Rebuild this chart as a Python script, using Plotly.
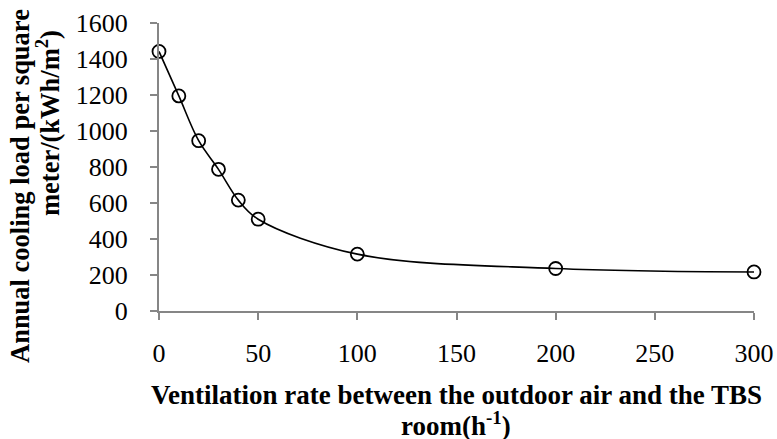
import plotly.graph_objects as go

ventilation_rate = [0, 10, 20, 30, 40, 50, 100, 200, 300]
cooling_load = [1442, 1195, 946, 787, 616, 510, 316, 236, 217]

x_ticks = [0, 50, 100, 150, 200, 250, 300]
y_ticks = [0, 200, 400, 600, 800, 1000, 1200, 1400, 1600]

FONT = "Liberation Serif, Times New Roman, serif"
AXIS_GRAY = "#868686"

W, H = 777, 439
L, R, T, B = 159, 754, 23, 311  # pixel box of plot area
PW, PH = R - L, B - T

fig = go.Figure()
fig.add_trace(go.Scatter(
    x=ventilation_rate, y=cooling_load,
    mode="lines+markers",
    line=dict(color="black", width=1.6, shape="spline", smoothing=1.0),
    marker=dict(symbol="circle-open", size=13, color="black", line=dict(width=1.8, color="black")),
    cliponaxis=False,
    showlegend=False,
    hoverinfo="skip",
))

fig.update_layout(
    width=W, height=H,
    margin=dict(l=L, r=W - R, t=T, b=H - B, autoexpand=False),
    paper_bgcolor="white", plot_bgcolor="white",
    font=dict(family=FONT, size=26, color="black"),
    xaxis=dict(
        range=[0, 300], tickvals=x_ticks, ticktext=[str(v) for v in x_ticks],
        showgrid=False, zeroline=False, showline=True, linecolor=AXIS_GRAY, linewidth=2,
        ticks="outside", ticklen=7, tickwidth=2, tickcolor=AXIS_GRAY,
        tickfont=dict(family=FONT, size=26, color="black"),
        ticklabelstandoff=11, automargin=False,
    ),
    yaxis=dict(
        range=[0, 1600], tickvals=y_ticks, ticktext=[str(v) for v in y_ticks],
        showgrid=False, zeroline=False, showline=True, linecolor=AXIS_GRAY, linewidth=2,
        ticks="outside", ticklen=7, tickwidth=2, tickcolor=AXIS_GRAY,
        tickfont=dict(family=FONT, size=26, color="black"),
        ticklabelstandoff=17, automargin=False,
    ),
    annotations=[
        dict(text="<b>Ventilation rate between the outdoor air and the TBS</b>",
             xref="paper", yref="paper", x=(456 - L) / PW, y=-(395 - B) / PH,
             xanchor="center", yanchor="middle", showarrow=False,
             font=dict(family=FONT, size=27, color="black")),
        dict(text="<b>room(h<sup>-1</sup>)</b>",
             xref="paper", yref="paper", x=(456 - L) / PW, y=-(424 - B) / PH,
             xanchor="center", yanchor="middle", showarrow=False,
             font=dict(family=FONT, size=27, color="black")),
        dict(text="<b>Annual cooling load per square</b>", textangle=-90,
             xref="paper", yref="paper", x=-(L - 20) / PW, y=(B - 186) / PH,
             xanchor="center", yanchor="middle", showarrow=False,
             font=dict(family=FONT, size=26.5, color="black")),
        dict(text="<b>meter/(kWh/m<sup>2</sup>)</b>", textangle=-90,
             xref="paper", yref="paper", x=-(L - 48) / PW, y=(B - 123) / PH,
             xanchor="center", yanchor="middle", showarrow=False,
             font=dict(family=FONT, size=26.5, color="black")),
    ],
)

fig.write_html(
    "out.html",
    config={"displayModeBar": False, "staticPlot": True},
    post_script="document.body.style.margin='0';document.body.style.overflow='hidden';",
)
